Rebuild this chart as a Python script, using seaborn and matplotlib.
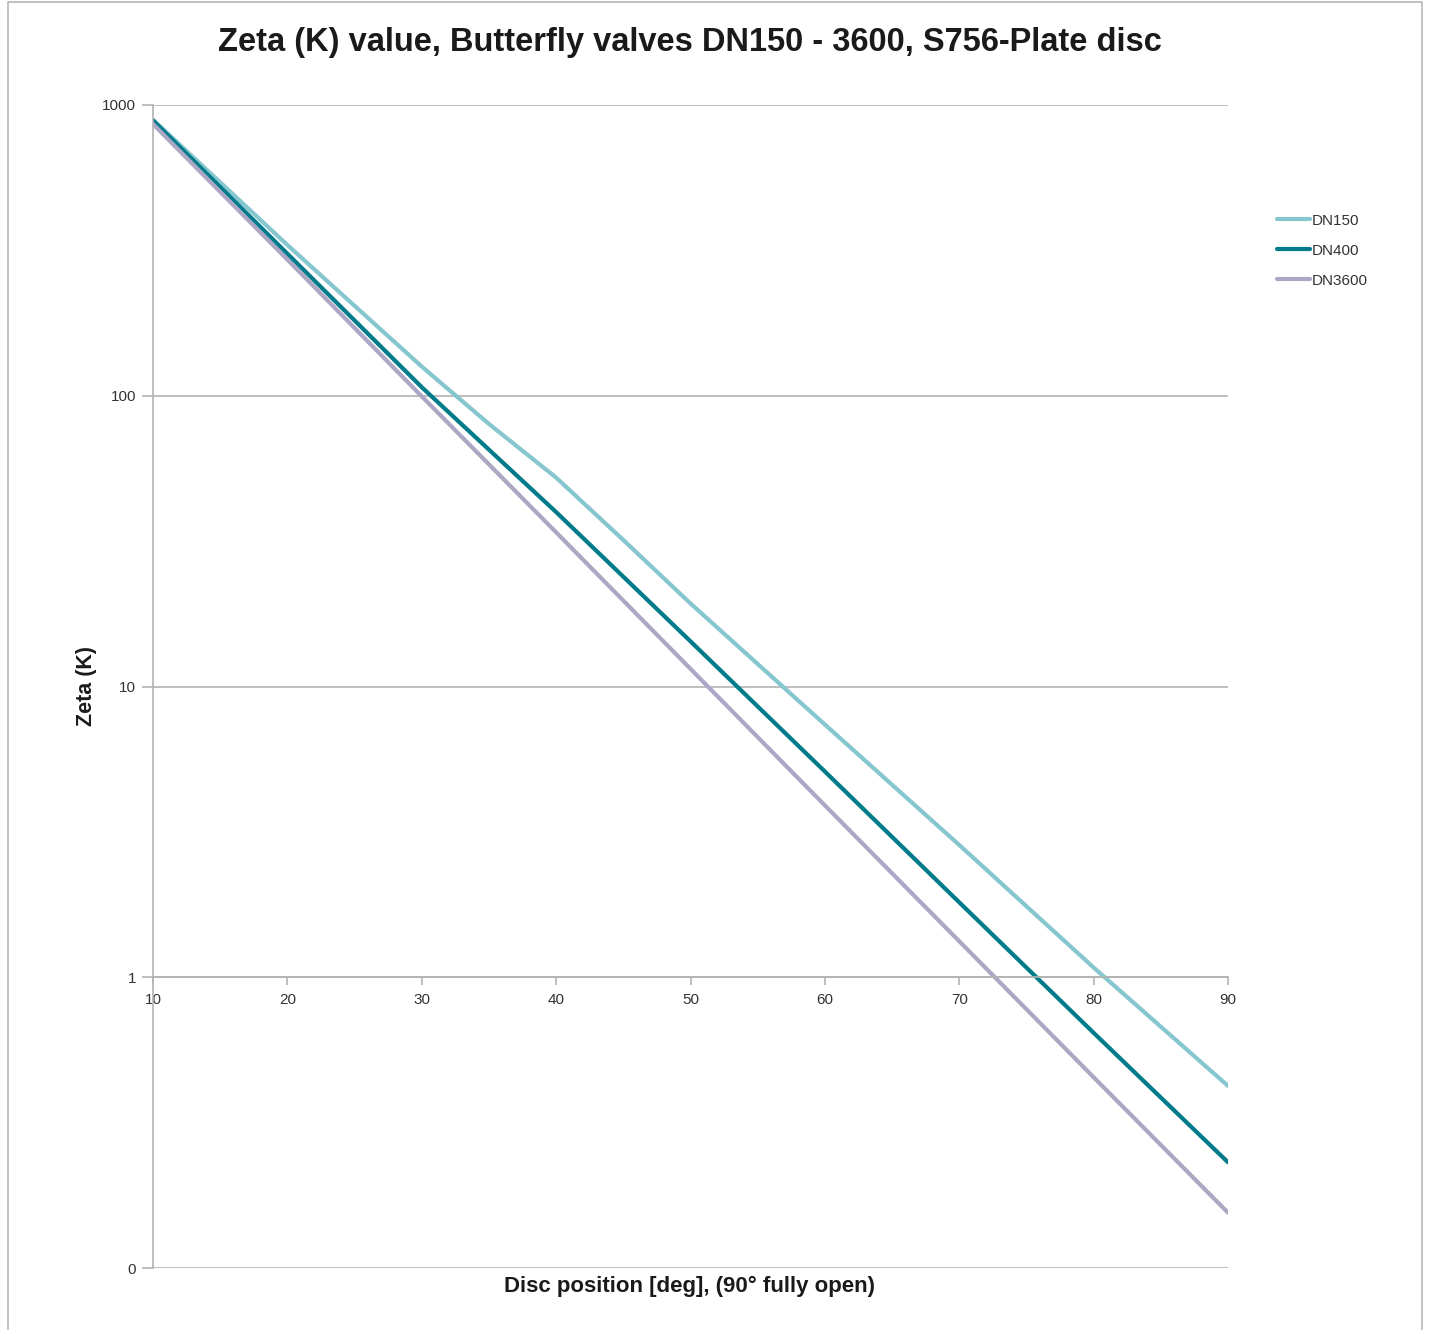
import matplotlib
matplotlib.use("Agg")
import matplotlib.pyplot as plt
from matplotlib.patches import Rectangle
import seaborn as sns
import pandas as pd

# Disc opening angle in degrees
angles_dn150 = [10, 20, 30, 35, 40, 45, 50, 60, 70, 80, 90]
angles = [10, 20, 30, 40, 50, 60, 70, 80, 90]

# Zeta (K) loss coefficients per valve size
zeta_dn150 = [890, 330, 126, 80, 52.3, 31.9, 19.3, 7.4, 2.85, 1.08, 0.423]
zeta_dn400 = [885, 308, 107, 39.8, 14.3, 5.1, 1.81, 0.644, 0.231]
zeta_dn3600 = [860, 294, 99.5, 33.9, 11.5, 3.9, 1.33, 0.453, 0.155]

series_names = ["DN150", "DN400", "DN3600"]
series_colors = ["#86C6CF", "#007B8A", "#ACA7C4"]

y_ticks = [0.1, 1, 10, 100, 1000]
y_tick_labels = ["0", "1", "10", "100", "1000"]
x_ticks = [10, 20, 30, 40, 50, 60, 70, 80, 90]

df = pd.DataFrame({
    "angle": angles_dn150 + angles + angles,
    "zeta": zeta_dn150 + zeta_dn400 + zeta_dn3600,
    "size": [series_names[0]] * len(angles_dn150)
            + [series_names[1]] * len(angles)
            + [series_names[2]] * len(angles),
})

sns.set_theme(style="white")
plt.rcParams["font.family"] = ["Liberation Sans", "DejaVu Sans"]

fig = plt.figure(figsize=(14.31, 13.30), dpi=100)
ax = fig.add_axes([153 / 1431, 1 - 1268 / 1330, (1228 - 153) / 1431, (1268 - 105) / 1330])

sns.lineplot(
    data=df, x="angle", y="zeta", hue="size",
    palette=dict(zip(series_names, series_colors)),
    hue_order=series_names, linewidth=3, ax=ax, legend=True,
)

grid_col = "#B3B3B3"
ax.set_yscale("log")
ax.set_ylim(0.1, 1000)
ax.set_xlim(10, 90)
ax.set_yticks(y_ticks)
ax.set_yticklabels(y_tick_labels)
ax.minorticks_off()
ax.set_xticks(x_ticks)
ax.set_xticklabels([str(v) for v in x_ticks])
ax.yaxis.grid(True, color=grid_col, linewidth=1.2)
ax.xaxis.grid(False)

for side in ["top", "right"]:
    ax.spines[side].set_visible(False)
ax.spines["left"].set_color(grid_col)
ax.spines["left"].set_linewidth(1.2)
ax.spines["bottom"].set_position(("data", 1))
ax.spines["bottom"].set_color(grid_col)
ax.spines["bottom"].set_linewidth(1.2)

ax.tick_params(axis="y", which="major", left=True, length=8, width=1.2,
               color=grid_col, pad=4, labelsize=11, labelcolor="#333333")
ax.tick_params(axis="x", which="major", bottom=True, length=6, width=1.2,
               color=grid_col, pad=5, labelsize=11, labelcolor="#333333",
               direction="out")

ax.set_xlabel("")
ax.set_ylabel("Zeta (K)", fontsize=15.5, fontweight="bold", color="#1A1A1A")
ax.yaxis.set_label_coords(-(153 - 97) / (1228 - 153), 0.5)

fig.text(690 / 1431, 1 - 1286 / 1330, "Disc position [deg], (90° fully open)",
         ha="center", va="center", fontsize=16, fontweight="bold", color="#1A1A1A")
fig.text(690 / 1431, 1 - 43 / 1330,
         "Zeta (K) value, Butterfly valves DN150 - 3600, S756-Plate disc",
         ha="center", va="center", fontsize=23.5, fontweight="bold", color="#1A1A1A")

handles, labels = ax.get_legend_handles_labels()
ax.get_legend().remove()
fig.legend(handles, labels, loc="upper left",
           bbox_to_anchor=(1263 / 1431, 1 - 200 / 1330),
           frameon=False, fontsize=11, handlelength=2.2, handletextpad=0.1,
           labelspacing=1.05, labelcolor="#333333")

# Outer chart-area border
fig.patches.append(Rectangle((8 / 1431, -0.01), (1422 - 8) / 1431, 1.0085,
                             transform=fig.transFigure, fill=False,
                             edgecolor="#B8B8B8", linewidth=1.2))

fig.savefig("out.png", dpi=100)
